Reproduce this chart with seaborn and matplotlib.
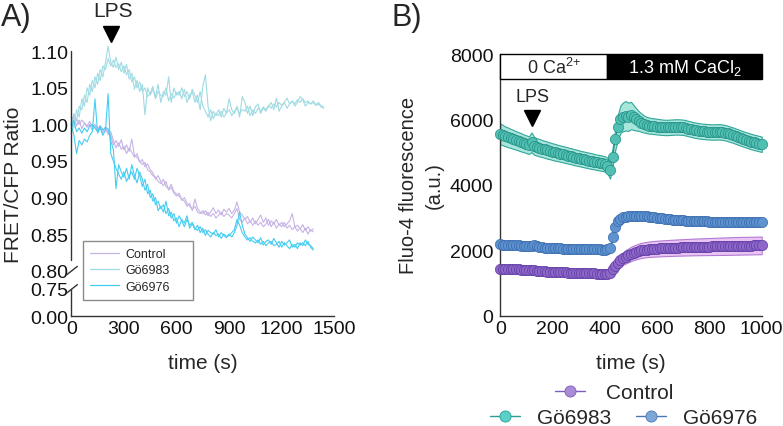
import numpy as np
import pandas as pd
import matplotlib
matplotlib.use("Agg")
import matplotlib.pyplot as plt
import matplotlib.transforms as mtransforms
from matplotlib.lines import Line2D
from matplotlib.patches import Rectangle
import seaborn as sns

sns.set_theme(style="white")
plt.rcParams["font.family"] = ["Liberation Sans", "DejaVu Sans"]
plt.rcParams["mathtext.fontset"] = "custom"
plt.rcParams["mathtext.rm"] = "Liberation Sans"
plt.rcParams["mathtext.it"] = "Liberation Sans:italic"
plt.rcParams["mathtext.bf"] = "Liberation Sans:bold"

# ---------------- Panel A data (FRET/CFP ratio, sampled every 15 s) ----------------
A_STEP = 15
gno83_a1 = [1.000, 1.015, 1.005, 1.025, 1.020, 1.040, 1.030, 1.055, 1.045, 1.065,
            1.055, 1.075, 1.065, 1.085, 1.107, 1.085, 1.078, 1.092, 1.075, 1.085,
            1.070, 1.082, 1.062, 1.070, 1.048, 1.060, 1.045, 1.055, 1.013, 1.050,
            1.040, 1.048, 1.038, 1.055, 1.030, 1.045, 1.040, 1.065, 1.030, 1.050,
            1.040, 1.045, 1.035, 1.048, 1.030, 1.040, 1.045, 1.030, 1.040, 1.020,
            1.052, 1.068, 1.025, 1.005, 1.018, 1.012, 1.020, 1.010, 1.022, 1.015,
            1.035, 1.020, 1.015, 1.025, 1.010, 1.038, 1.030, 1.015, 1.025, 1.012,
            1.024, 1.028, 1.015, 1.022, 1.018, 1.025, 1.030, 1.020, 1.036, 1.018,
            1.025, 1.030, 1.022, 1.028, 1.032, 1.025, 1.030, 1.038, 1.034, 1.025,
            1.030, 1.028, 1.032, 1.027, 1.030, 1.025, 1.024]
gno83_a2 = [1.010, 0.995, 1.020, 1.010, 1.035, 1.025, 1.050, 1.040, 1.060, 1.050,
            1.070, 1.060, 1.080, 1.075, 1.090, 1.080, 1.088, 1.078, 1.083, 1.072,
            1.080, 1.068, 1.075, 1.058, 1.065, 1.050, 1.058, 1.045, 1.050, 1.038,
            1.042, 1.052, 1.035, 1.045, 1.040, 1.038, 1.050, 1.032, 1.042, 1.036,
            1.044, 1.040, 1.050, 1.038, 1.045, 1.035, 1.048, 1.040, 1.030, 1.045,
            1.025, 1.018, 1.010, 1.020, 1.008, 1.015, 1.012, 1.018, 1.010, 1.016,
            1.020, 1.012, 1.018, 1.022, 1.015, 1.020, 1.018, 1.025, 1.012, 1.020,
            1.015, 1.022, 1.018, 1.024, 1.020, 1.026, 1.022, 1.028, 1.024, 1.030,
            1.026, 1.030, 1.036, 1.028, 1.032, 1.028, 1.034, 1.030, 1.035, 1.030,
            1.032, 1.028, 1.030, 1.026, 1.028, 1.024, 1.022]
control_a1 = [1.010, 1.005, 1.008, 1.000, 1.006, 1.002, 0.998, 1.004, 0.996, 1.000,
              0.994, 0.998, 0.992, 0.996, 0.990, 0.985, 0.972, 0.978, 0.970, 0.979,
              0.965, 0.972, 0.963, 0.980, 0.958, 0.955, 0.950, 0.945, 0.948, 0.938,
              0.935, 0.930, 0.928, 0.922, 0.919, 0.925, 0.915, 0.912, 0.918, 0.908,
              0.905, 0.902, 0.898, 0.895, 0.888, 0.892, 0.882, 0.898, 0.885, 0.880,
              0.878, 0.882, 0.875, 0.880, 0.886, 0.878, 0.883, 0.876, 0.884, 0.880,
              0.885, 0.878, 0.883, 0.894, 0.880, 0.876, 0.870, 0.874, 0.866, 0.872,
              0.864, 0.870, 0.876, 0.866, 0.872, 0.862, 0.868, 0.864, 0.870, 0.862,
              0.866, 0.860, 0.864, 0.868, 0.878, 0.860, 0.862, 0.857, 0.863, 0.855,
              0.860, 0.854, 0.857]
control_a2 = [1.000, 1.012, 0.998, 1.006, 0.994, 1.002, 0.996, 1.000, 0.992, 0.998,
              0.990, 0.996, 0.988, 0.994, 0.986, 0.990, 0.978, 0.968, 0.975, 0.966,
              0.970, 0.960, 0.968, 0.962, 0.955, 0.960, 0.948, 0.952, 0.942, 0.946,
              0.938, 0.934, 0.925, 0.930, 0.922, 0.916, 0.922, 0.910, 0.914, 0.906,
              0.902, 0.906, 0.896, 0.900, 0.892, 0.888, 0.884, 0.888, 0.880, 0.878,
              0.882, 0.876, 0.880, 0.874, 0.878, 0.872, 0.876, 0.880, 0.874, 0.878,
              0.876, 0.872, 0.878, 0.885, 0.870, 0.866, 0.872, 0.864, 0.868, 0.862,
              0.868, 0.862, 0.866, 0.860, 0.864, 0.870, 0.860, 0.866, 0.858, 0.864,
              0.860, 0.866, 0.858, 0.862, 0.856, 0.860, 0.854, 0.858, 0.852, 0.858,
              0.850, 0.856, 0.853]
gno76_a1 = [1.000, 0.985, 0.960, 0.978, 0.972, 0.980, 0.976, 0.985, 0.990, 1.035,
            0.988, 0.995, 0.985, 0.992, 1.042, 0.960, 0.950, 0.940, 0.932, 0.925,
            0.935, 0.922, 0.930, 0.935, 0.925, 0.940, 0.930, 0.915, 0.925, 0.905,
            0.910, 0.895, 0.900, 0.882, 0.888, 0.880, 0.895, 0.875, 0.880, 0.868,
            0.872, 0.860, 0.870, 0.865, 0.875, 0.858, 0.864, 0.856, 0.862, 0.852,
            0.858, 0.848, 0.855, 0.852, 0.850, 0.856, 0.846, 0.852, 0.848, 0.845,
            0.850, 0.846, 0.852, 0.862, 0.880, 0.862, 0.850, 0.845, 0.840, 0.846,
            0.842, 0.838, 0.845, 0.835, 0.840, 0.842, 0.836, 0.844, 0.838, 0.832,
            0.840, 0.835, 0.838, 0.842, 0.832, 0.836, 0.830, 0.838, 0.834, 0.842,
            0.836, 0.834, 0.830]
gno76_a2 = [0.995, 1.005, 0.990, 0.995, 0.988, 0.995, 0.990, 0.998, 1.000, 0.995,
            0.990, 0.998, 0.992, 0.996, 0.994, 0.978, 0.965, 0.912, 0.945, 0.935,
            0.928, 0.940, 0.925, 0.945, 0.930, 0.920, 0.935, 0.925, 0.910, 0.918,
            0.900, 0.905, 0.890, 0.895, 0.885, 0.890, 0.878, 0.885, 0.872, 0.878,
            0.865, 0.875, 0.868, 0.860, 0.870, 0.862, 0.866, 0.858, 0.855, 0.860,
            0.852, 0.856, 0.850, 0.846, 0.852, 0.848, 0.850, 0.844, 0.850, 0.847,
            0.848, 0.852, 0.856, 0.870, 0.862, 0.852, 0.846, 0.842, 0.845, 0.840,
            0.838, 0.842, 0.836, 0.840, 0.834, 0.838, 0.840, 0.834, 0.836, 0.840,
            0.832, 0.838, 0.834, 0.830, 0.836, 0.832, 0.838, 0.835, 0.838, 0.834,
            0.840, 0.832, 0.828]

a_groups = ["Control", "Gö6983", "Gö6976"]
a_colors = {"Control": "#c6b4e6", "Gö6983": "#9fdbe3", "Gö6976": "#45cdf2"}
a_xticks = [0, 300, 600, 900, 1200, 1500]
a_yticks = [0.00, 0.75, 0.80, 0.85, 0.90, 0.95, 1.00, 1.05, 1.10]
a_yticklabels = ["0.00", "0.75", "0.80", "0.85", "0.90", "0.95", "1.00", "1.05", "1.10"]
LPS_A = 225

# ---------------- Panel B data (Fluo-4, sampled every 10 s) ----------------
B_STEP = 10
g83_mean = [5560, 5520, 5480, 5450, 5420, 5390, 5360, 5330, 5300, 5270,
            5240, 5215, 5300, 5190, 5160, 5135, 5110, 5085, 5060, 5040,
            5015, 4995, 4975, 4955, 4935, 4915, 4895, 4875, 4855, 4835,
            4815, 4795, 4778, 4760, 4742, 4725, 4708, 4690, 4675, 4660,
            4640, 4590, 4440, 4850, 5400, 5770, 6010, 6080, 6110, 6080,
            6120, 6060, 6000, 5950, 5900, 5860, 5830, 5810, 5800, 5790,
            5780, 5770, 5760, 5755, 5755, 5760, 5765, 5770, 5770, 5765,
            5760, 5740, 5720, 5700, 5680, 5665, 5650, 5640, 5632, 5625,
            5620, 5615, 5615, 5620, 5620, 5610, 5595, 5570, 5545, 5520,
            5490, 5460, 5430, 5400, 5375, 5350, 5325, 5300, 5280, 5260,
            5240]
g83_sem = [320, 310, 300, 300, 290, 290, 280, 280, 280, 270,
           270, 270, 300, 270, 265, 265, 260, 260, 260, 255,
           255, 255, 250, 250, 250, 250, 245, 245, 245, 245,
           240, 240, 240, 240, 240, 240, 235, 235, 235, 235,
           235, 240, 250, 280, 330, 380, 420, 440, 450, 430,
           420, 380, 340, 300, 280, 260, 250, 245, 240, 240,
           240, 238, 236, 235, 235, 235, 235, 235, 235, 235,
           235, 235, 235, 235, 235, 235, 235, 235, 235, 235,
           235, 235, 235, 235, 235, 235, 235, 235, 235, 235,
           235, 235, 235, 235, 235, 235, 235, 235, 235, 235,
           235]
g76_mean = [2180, 2176, 2172, 2168, 2164, 2160, 2156, 2150, 2144, 2138,
            2132, 2126, 2120, 2150, 2125, 2100, 2090, 2084, 2078, 2072,
            2068, 2064, 2060, 2057, 2054, 2051, 2048, 2046, 2044, 2042,
            2040, 2038, 2036, 2034, 2032, 2030, 2028, 2026, 2024, 2022,
            2020, 2025, 2080, 2400, 2700, 2880, 2960, 3005, 3030, 3045,
            3052, 3055, 3055, 3052, 3048, 3042, 3035, 3027, 3018, 3008,
            2998, 2988, 2978, 2968, 2958, 2948, 2940, 2932, 2925, 2918,
            2912, 2906, 2901, 2897, 2893, 2890, 2887, 2884, 2882, 2880,
            2878, 2876, 2875, 2874, 2873, 2872, 2872, 2871, 2871, 2870,
            2870, 2870, 2870, 2870, 2870, 2870, 2870, 2870, 2870, 2870,
            2870]
g76_sem = [40, 40, 40, 40, 40, 40, 40, 40, 40, 40,
           40, 40, 40, 45, 40, 40, 40, 40, 40, 40,
           40, 40, 40, 40, 40, 40, 40, 40, 40, 40,
           40, 40, 40, 40, 40, 40, 40, 40, 40, 40,
           40, 40, 45, 60, 60, 55, 50, 50, 50, 50,
           50, 50, 50, 50, 50, 50, 50, 50, 50, 50,
           50, 50, 50, 50, 50, 50, 50, 50, 50, 50,
           50, 50, 50, 50, 50, 50, 50, 50, 50, 50,
           50, 50, 50, 50, 50, 50, 50, 50, 50, 50,
           50, 50, 50, 50, 50, 50, 50, 50, 50, 50,
           50]
ctrl_mean = [1420, 1420, 1418, 1416, 1415, 1415, 1414, 1413, 1412, 1410,
             1405, 1400, 1392, 1384, 1376, 1368, 1360, 1355, 1350, 1345,
             1340, 1336, 1332, 1328, 1325, 1322, 1319, 1316, 1313, 1310,
             1308, 1305, 1302, 1300, 1298, 1295, 1292, 1290, 1288, 1285,
             1283, 1285, 1320, 1430, 1530, 1620, 1690, 1750, 1800, 1845,
             1885, 1920, 1950, 1975, 1995, 2010, 2022, 2032, 2040, 2046,
             2051, 2056, 2060, 2064, 2068, 2072, 2076, 2080, 2083, 2086,
             2089, 2092, 2095, 2098, 2101, 2104, 2106, 2108, 2110, 2112,
             2114, 2116, 2118, 2120, 2122, 2124, 2126, 2128, 2130, 2132,
             2134, 2136, 2138, 2139, 2140, 2142, 2144, 2146, 2147, 2148,
             2150]
ctrl_sem = [50, 50, 50, 50, 50, 50, 50, 50, 50, 50,
            50, 50, 50, 50, 50, 50, 50, 50, 50, 50,
            50, 50, 50, 50, 50, 50, 50, 50, 50, 50,
            50, 50, 50, 50, 50, 50, 50, 50, 50, 50,
            50, 55, 70, 100, 130, 160, 180, 195, 205, 212,
            218, 222, 225, 228, 230, 232, 234, 236, 238, 240,
            241, 242, 243, 244, 245, 246, 247, 248, 249, 250,
            251, 252, 253, 254, 255, 256, 257, 258, 259, 260,
            261, 262, 263, 264, 265, 266, 267, 268, 269, 270,
            270, 270, 270, 270, 270, 270, 270, 270, 270, 270,
            270]
b_xticks = [0, 200, 400, 600, 800, 1000]
b_yticks = [0, 2000, 4000, 6000, 8000]
LPS_B = 123
CA_SWITCH = 410
bar_labels = ["0 Ca$^{2{+}}$", "1.3 mM CaCl$_2$"]

# ---------------- figure ----------------
W, H = 783, 427
fig = plt.figure(figsize=(W / 100, H / 100), dpi=100)

def px_axes(l, r, t, b):
    return fig.add_axes([l / W, 1 - b / H, (r - l) / W, (b - t) / H])

TICK = 14
LAB = 15
# ======== Panel A ========
axA = px_axes(71.3, 334.3, 52.3, 317.3)

def fwd(v):
    v = np.asarray(v, float)
    return np.where(v >= 0.80, 1.25 + (v - 0.80) * 20,
                    np.where(v >= 0.75, 0.75 + (v - 0.75) * 10, v))

def inv(u):
    u = np.asarray(u, float)
    return np.where(u >= 1.25, 0.80 + (u - 1.25) / 20,
                    np.where(u >= 0.75, 0.75 + (u - 0.75) / 10, u))

rows = []
for grp, traces in [("Gö6983", [gno83_a1, gno83_a2]),
                    ("Control", [control_a1, control_a2]),
                    ("Gö6976", [gno76_a1, gno76_a2])]:
    for k, tr in enumerate(traces):
        for i, v in enumerate(tr):
            rows.append({"time": i * A_STEP, "ratio": v, "group": grp, "trace": f"{grp}{k}"})
dfA = pd.DataFrame(rows)

axA.set_yscale("function", functions=(fwd, inv))
sns.lineplot(data=dfA, x="time", y="ratio", hue="group", units="trace", estimator=None,
             hue_order=a_groups, palette=a_colors, linewidth=0.8, ax=axA, legend=True)
for ln in axA.get_lines():
    ln.set_clip_on(False)

axA.set_xlim(0, 1500)
axA.set_ylim(0, 1.10)
axA.set_xticks(a_xticks)
axA.set_yticks(a_yticks)
axA.set_yticklabels(a_yticklabels)
axA.tick_params(axis="both", direction="in", length=7, width=1, color="#333333",
                labelsize=TICK, pad=3, labelcolor="#111111")
axA.tick_params(axis="y", pad=2)
for t, val in zip(axA.yaxis.get_major_ticks(), a_yticks):
    if val in (0.0, 0.75, 0.80):
        t.tick1line.set_visible(False)
for s in ["top", "right"]:
    axA.spines[s].set_visible(False)
for s in ["left", "bottom"]:
    axA.spines[s].set_color("#333333")
    axA.spines[s].set_linewidth(1)
axA.spines["left"].set_visible(False)
# broken left axis
ytop = float(fwd(1.10))
def yax(v):
    return float(fwd(v)) / ytop
tr_axes = axA.transAxes
axA.plot([0, 0], [yax(0.815), 1.0], color="#333333", lw=1, transform=tr_axes, clip_on=False)
axA.plot([0, 0], [0, yax(0.742)], color="#333333", lw=1, transform=tr_axes, clip_on=False)
for v in (0.80, 0.75):
    yc = yax(v)
    axA.plot([-0.018, 0.023], [yc - 0.016, yc + 0.016], color="#333333", lw=1,
             transform=tr_axes, clip_on=False)

axA.set_xlabel("time (s)", fontsize=LAB)
axA.set_ylabel("FRET/CFP Ratio", fontsize=LAB)
axA.xaxis.set_label_coords(0.5, (317.3 - 354) / 265)
axA.yaxis.set_label_coords((23 - 71.3) / 263, 0.5)

h, l = axA.get_legend_handles_labels()
legA = axA.legend(h, l, loc="upper left", bbox_to_anchor=(0.0445, 0.284, 0.418, 0.0),
                  mode="expand", fontsize=9, frameon=True, fancybox=False,
                  edgecolor="#8a8a8a", framealpha=1, borderaxespad=0,
                  handlelength=2.3, handletextpad=0.5, labelspacing=0.35, borderpad=0.55)
legA.get_frame().set_linewidth(1)
for lh in legA.get_lines():
    lh.set_linewidth(0.9)

# LPS marker A
blendA = mtransforms.blended_transform_factory(axA.transData, axA.transAxes)
axA.plot([LPS_A], [1.067], marker="v", ms=11, color="black", transform=blendA, clip_on=False)
axA.text(LPS_A + 15, 1.154, "LPS", transform=blendA, ha="center", va="center", fontsize=15)

fig.text(1 / W, 1 - 18 / H, "A)", fontsize=22, va="center", ha="left")

# ======== Panel B ========
axB = px_axes(500.2, 761.7, 55.0, 316.7)
tB = np.arange(len(g83_mean)) * B_STEP
dfB = pd.DataFrame({"time": np.concatenate([tB, tB, tB]),
                    "value": np.concatenate([ctrl_mean, g83_mean, g76_mean]),
                    "sem": np.concatenate([ctrl_sem, g83_sem, g76_sem]),
                    "group": ["Control"] * len(tB) + ["Gö6983"] * len(tB) + ["Gö6976"] * len(tB)})

styleB = {
    "Control": dict(face="#8d68c9", edge="#5f3aa3", band="#e9c4f3", bandedge="#b27bd4"),
    "Gö6976": dict(face="#5e93d0", edge="#3769ac", band="#b9d0ec", bandedge="#5e93d0"),
    "Gö6983": dict(face="#52bfb3", edge="#238f85", band="#a8e6dc", bandedge="#30a699"),
}
for grp in ["Control", "Gö6976", "Gö6983"]:
    d = dfB[dfB["group"] == grp]
    st = styleB[grp]
    axB.fill_between(d["time"], d["value"] - d["sem"], d["value"] + d["sem"],
                     facecolor=st["band"], edgecolor=st["bandedge"], linewidth=0.8,
                     zorder=2, clip_on=False)
    sns.lineplot(data=d, x="time", y="value", ax=axB, color=st["edge"], linewidth=0.8,
                 marker="o", markersize=7.4, markerfacecolor=st["face"],
                 markeredgecolor=st["edge"], markeredgewidth=0.5, legend=False,
                 zorder=3, errorbar=None)
for ln in axB.get_lines():
    ln.set_clip_on(False)

axB.set_xlim(0, 1000)
axB.set_ylim(0, 8000)
axB.set_xticks(b_xticks)
axB.set_yticks(b_yticks)
axB.tick_params(axis="both", direction="in", length=7, width=1, color="#333333",
                labelsize=TICK, pad=3, labelcolor="#111111")
axB.tick_params(axis="y", pad=5)
for s in ["top", "right"]:
    axB.spines[s].set_visible(False)
for s in ["left", "bottom"]:
    axB.spines[s].set_color("#333333")
    axB.spines[s].set_linewidth(1)
axB.set_xlabel("time (s)", fontsize=LAB)
axB.set_ylabel("Fluo-4 fluorescence\n(a.u.)", fontsize=14.5, linespacing=1.45)
axB.xaxis.set_label_coords(0.5, (316.7 - 354) / 261.7)
axB.yaxis.set_label_coords((444 - 500.2) / 261.5, 0.5)

# Ca2+ condition bar
axB.add_patch(Rectangle((0, 7250), CA_SWITCH, 750, facecolor="white", edgecolor="black",
                        lw=1, clip_on=False, zorder=5))
axB.add_patch(Rectangle((CA_SWITCH, 7250), 1000 - CA_SWITCH, 750, facecolor="black",
                        edgecolor="black", lw=1, clip_on=False, zorder=5))
axB.text(CA_SWITCH / 2, 7600, bar_labels[0], ha="center", va="center", fontsize=13, zorder=6)
axB.text((CA_SWITCH + 1000) / 2, 7600, bar_labels[1], ha="center", va="center",
         fontsize=13, color="white", zorder=6)

# LPS marker B
axB.plot([LPS_B], [6040], marker="v", ms=11, color="black", clip_on=False, zorder=6)
axB.text(LPS_B, 6690, "LPS", ha="center", va="center", fontsize=13, zorder=6)

fig.text(391 / W, 1 - 18 / H, "B)", fontsize=22, va="center", ha="left")

# Legend B
def mk(face, edge):
    return Line2D([0], [0], color=edge, lw=1, marker="o", ms=8,
                  markerfacecolor=face, markeredgecolor=edge, markeredgewidth=0.6)
h_ctrl = mk("#a98bd8", "#7d5cc0")
h83 = mk("#59d0c8", "#2c9e96")
h76 = mk("#7ea7d8", "#4a78b5")
leg1 = fig.legend([h_ctrl], ["Control"], loc="center", bbox_to_anchor=(614 / W, 1 - 394 / H),
                  frameon=False, fontsize=15, handlelength=1.45, handletextpad=1.0,
                  borderpad=0, borderaxespad=0)
leg2 = fig.legend([h83, h76], ["Gö6983", "Gö6976"], loc="center", ncol=2,
                  bbox_to_anchor=(623.5 / W, 1 - 419 / H), frameon=False, fontsize=15,
                  handlelength=1.45, handletextpad=0.8, columnspacing=1.2,
                  borderpad=0, borderaxespad=0)

fig.savefig("out.png", dpi=100)
